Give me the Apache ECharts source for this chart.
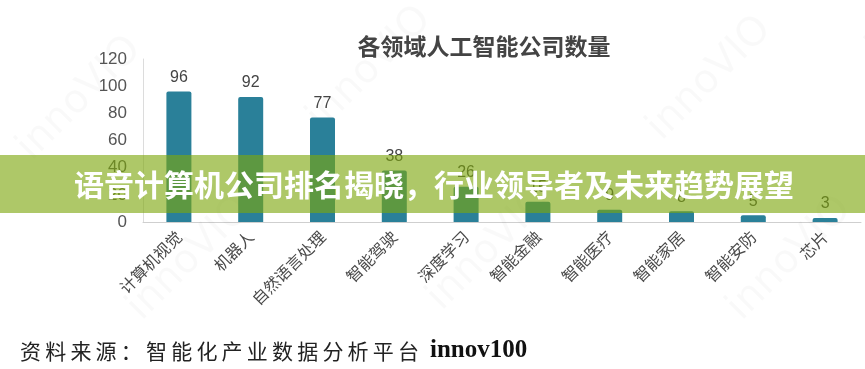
<!DOCTYPE html>
<html>
<head>
<meta charset="utf-8">
<script src="https://cdn.jsdelivr.net/npm/echarts@6/dist/echarts.min.js"></script>
<style>
html,body{margin:0;padding:0;background:#fff;}
#c{width:865px;height:369px;}
</style>
</head>
<body>
<div id="c"></div>
<script>
const categories = ['计算机视觉','机器人','自然语言处理','智能驾驶','深度学习','智能金融','智能医疗','智能家居','智能安防','芯片'];
const companyCounts = [96, 92, 77, 38, 26, 15, 9, 8, 5, 3];
const yTicks = [0, 20, 40, 60, 80, 100, 120];
const titleText = '各领域人工智能公司数量';
const bannerText = '语音计算机公司排名揭晓，行业领导者及未来趋势展望';
const sourceText = '资料来源：智能化产业数据分析平台';
const sourceBrand = 'innov100';

const chart = echarts.init(document.getElementById('c'), null, {renderer:'canvas'});

const watermarks = [];
const wmPos = [[10,140],[300,110],[640,120],[120,300],[420,290],[720,300],[860,40]];
wmPos.forEach(p => {
  watermarks.push({
    type:'text', x:p[0], y:p[1], rotation: Math.PI/4, silent:true, z:1,
    style:{text:'innoVIO', fill:'rgba(0,0,0,0.025)', font:'40px "DejaVu Sans"'}
  });
});

chart.setOption({
  animation:false,
  backgroundColor:'#ffffff',
  title:{
    text:titleText, left:479, top:30, textAlign:'center',
    textStyle:{fontFamily:'"Noto Sans CJK SC"', fontSize:23, fontWeight:'bold', color:'#444'}
  },
  grid:{left:143, top:59, width:718, bottom:147, containLabel:false},
  xAxis:{
    type:'category', data:categories,
    axisLine:{show:true, lineStyle:{color:'#cfcfcf', width:1}},
    axisTick:{show:false},
    axisLabel:{rotate:45, margin:12, interval:0, fontSize:16, color:'#4a4a4a', fontFamily:'"Noto Sans CJK SC"'}
  },
  yAxis:{
    type:'value', min:yTicks[0], max:yTicks[yTicks.length-1], interval:20,
    axisLine:{show:true, lineStyle:{color:'#dcdcdc', width:1}},
    axisTick:{show:false},
    splitLine:{show:false},
    axisLabel:{fontSize:17, color:'#555', margin:16, fontFamily:'"Liberation Sans", Arial'}
  },
  series:[{
    type:'bar', data:companyCounts, barWidth:25,
    itemStyle:{color:'#2a8099', borderRadius:[2,2,0,0]},
    label:{show:true, position:'top', distance:6, fontSize:16, color:'#444', fontFamily:'"Liberation Sans", Arial'},
    z:2
  }],
  graphic: watermarks.concat([
    {type:'rect', left:0, top:155, silent:true, z:100,
     shape:{width:865, height:58}, style:{fill:'rgba(125,166,11,0.62)'}},
    {type:'text', x:434, y:185, silent:true, z:101,
     style:{text:bannerText, fill:'#ffffff', font:'bold 30px "Noto Sans CJK SC"', textAlign:'center', textVerticalAlign:'middle'}},
    {type:'text', x:20, y:351, silent:true, z:101,
     style:{text:sourceText.split('').join('\u2009'), fill:'#222', font:'21px "Noto Sans CJK SC"', textVerticalAlign:'middle'}},
    {type:'text', x:430, y:351, silent:true, z:101,
     style:{text:sourceBrand, fill:'#111', font:'bold 25px "Liberation Serif"', textVerticalAlign:'middle'}}
  ])
});
</script>
</body>
</html>
